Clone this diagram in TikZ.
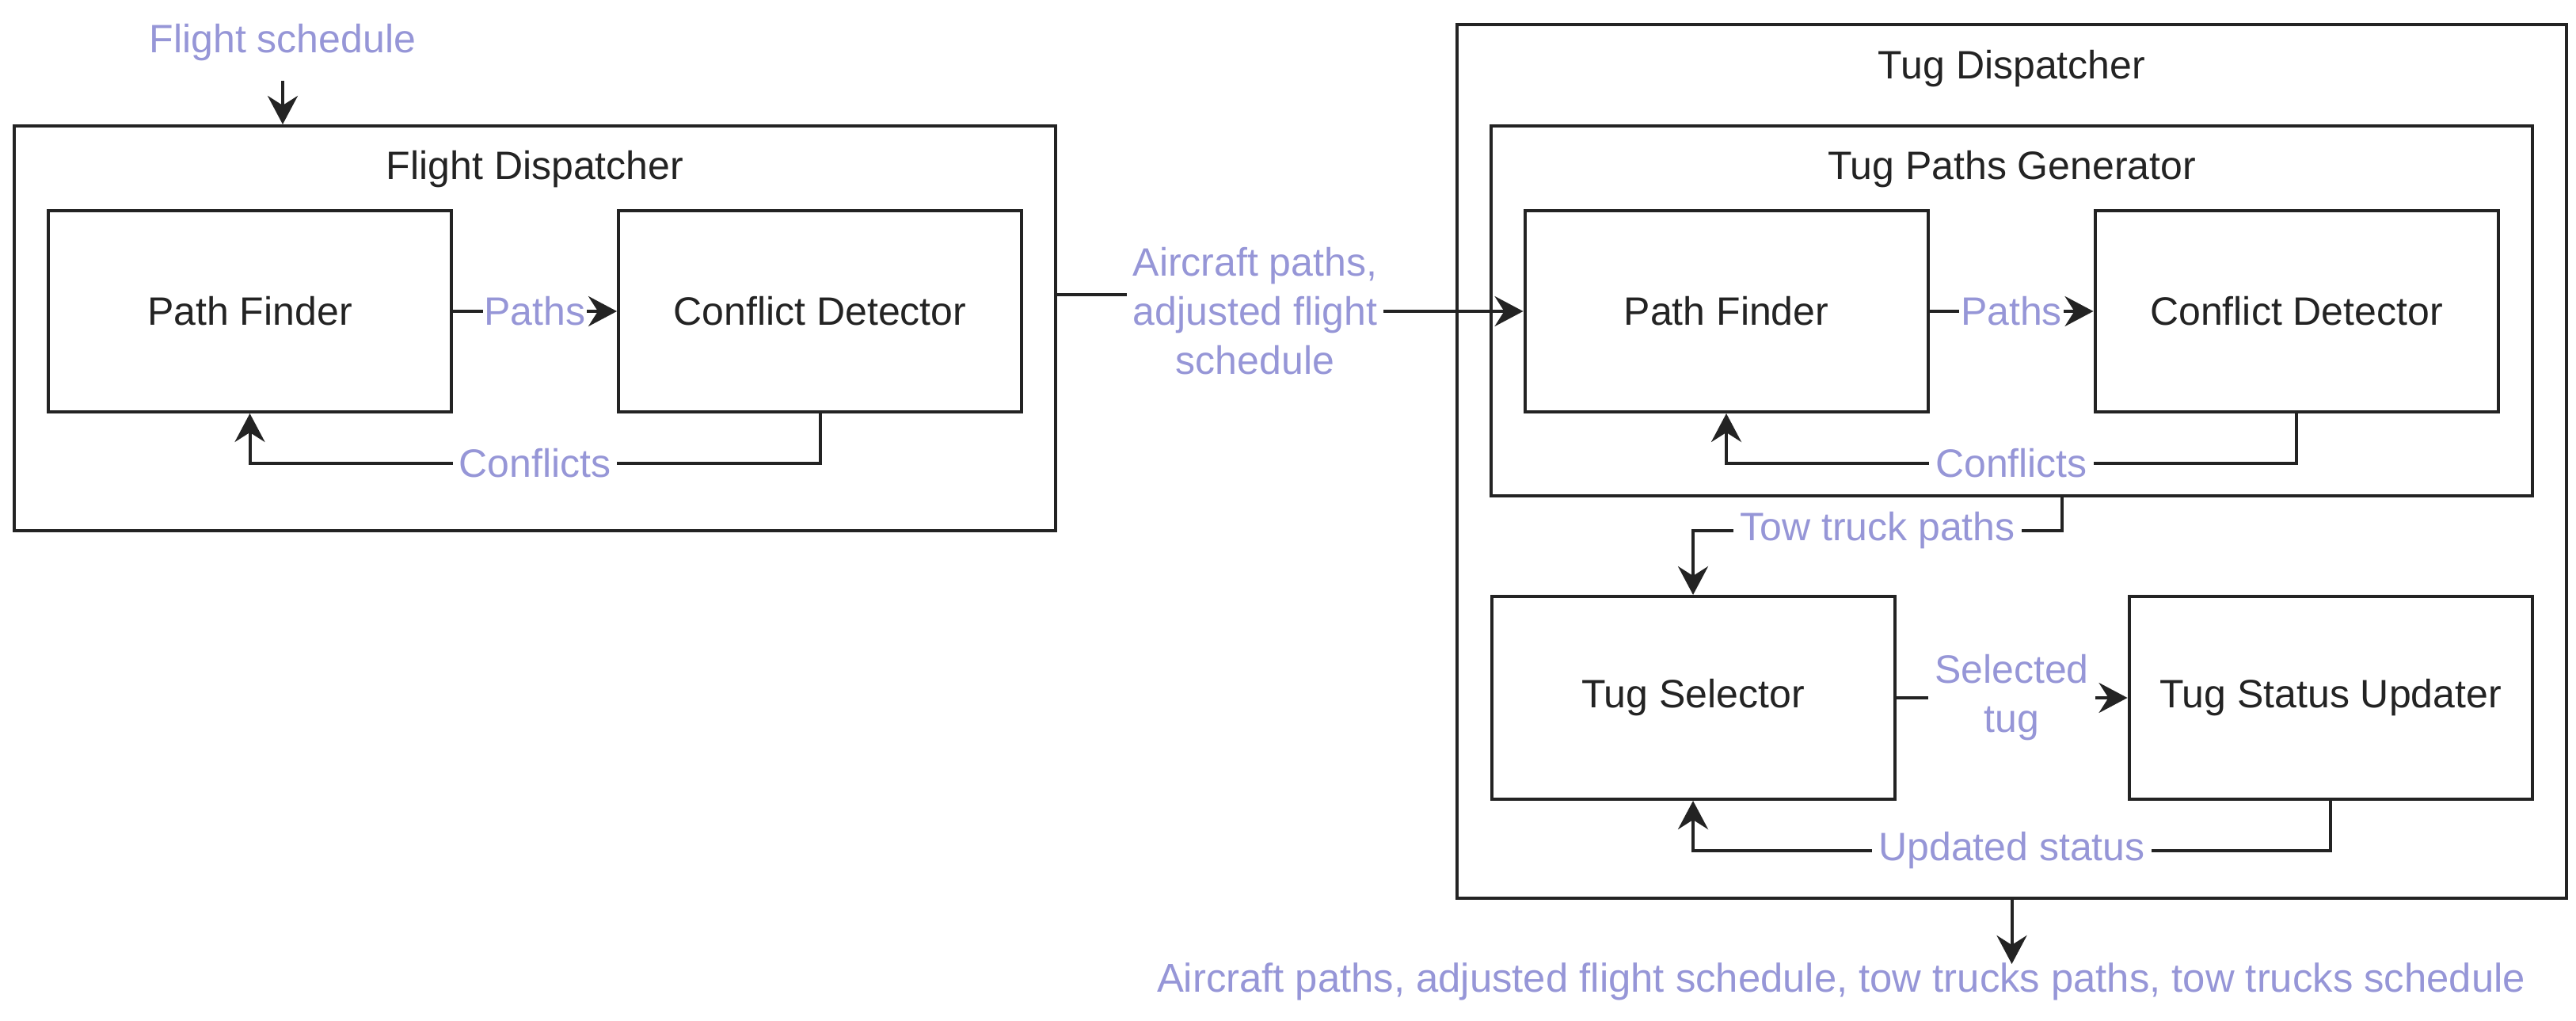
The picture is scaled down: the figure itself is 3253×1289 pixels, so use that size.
\documentclass[tikz,border=0pt]{standalone}
\usepackage{fontspec}
\setmainfont{Liberation Sans}
\usetikzlibrary{arrows.meta}
\definecolor{lbl}{RGB}{150,150,215}
\definecolor{ln}{RGB}{35,35,35}
\tikzset{
  box/.style={draw=ln, line width=2pt, fill=white, inner sep=0pt, text=ln,
    minimum width=254.5pt, minimum height=127pt},
  cont/.style={draw=ln, line width=2pt, inner sep=0pt},
  conn/.style={draw=ln, line width=2pt, -{Stealth[length=18pt,width=19pt,inset=6pt]}},
  plain/.style={draw=ln, line width=2pt},
  lab/.style={text=lbl, fill=white, inner sep=4pt, align=center},
  ttl/.style={text=ln, inner sep=0pt},
}
\begin{document}
\begin{tikzpicture}[x=0.5pt,y=-0.5pt,font=\fontsize{25}{31}\selectfont]
\useasboundingbox (0,0) rectangle (3253,1289);
% left container
\node[cont, minimum width=657.5pt, minimum height=255.5pt] (fd) at (675.5,414.5) {};
\node[ttl] (fdt) at (675.5,214) {Flight Dispatcher};
\node[box] (pf1) at (315.5,393) {Path Finder};
\node[box] (cd1) at (1035.5,393) {Conflict Detector};
\node[lab, fill=none] (fs) at (357,54) {Flight schedule};
% right container
\node[cont, minimum width=700.5pt, minimum height=551.5pt] (td) at (2540.5,582.5) {};
\node[ttl] (tdt) at (2540.5,87) {Tug Dispatcher};
\node[cont, minimum width=657.5pt, minimum height=233.5pt] (tpg) at (2540.5,392.5) {};
\node[ttl] (tpgt) at (2540.5,214) {Tug Paths Generator};
\node[box] (pf2) at (2180,393) {Path Finder};
\node[box] (cd2) at (2900,393) {Conflict Detector};
\node[box, minimum height=128pt] (ts) at (2138,881) {Tug Selector};
\node[box, minimum height=128pt] (tsu) at (2943,881) {Tug Status Updater};
% connectors
\draw[conn] ([yshift=-8pt]fs.south) -- (fs.south |- fd.north);
\draw[conn] (pf1) -- (cd1) node[lab, midway, inner sep=1pt] {Paths};
\draw[conn] (cd1.south) -- ++(0,63) coordinate (c1) -- (c1 -| pf1.south)
  node[lab, midway] {Conflicts} -- (pf1.south);
\coordinate (fdout) at ([yshift=21.25pt]fd.east);
\coordinate (jog) at (1585,372);
\draw[conn] (fdout) -- (jog) -- (jog |- pf2.west) -- (pf2.west);
\node[lab] (acl) at (1585,393) {Aircraft paths,\\adjusted flight\\schedule};
\draw[conn] (pf2) -- (cd2) node[lab, midway, inner sep=1pt] {Paths};
\draw[conn] (cd2.south) -- ++(0,63) coordinate (c2) -- (c2 -| pf2.south)
  node[lab, midway] {Conflicts} -- (pf2.south);
\draw[conn] ([xshift=31.75pt]tpg.south) -- ++(0,42) coordinate (c3) -- (c3 -| ts.north)
  node[lab, midway] {Tow truck paths} -- (ts.north);
\draw[conn] (ts) -- (tsu) node[lab, midway] {Selected\\tug};
\draw[conn] (tsu.south) -- ++(0,63) coordinate (c4) -- (c4 -| ts.south)
  node[lab, midway] {Updated status} -- (ts.south);
\coordinate (outend) at ([yshift=-40.5pt]td.south);
\draw[conn] (td.south) -- (outend);
\node[lab, fill=none, font=\fontsize{25.4}{31}\selectfont] (outl) at (2325,1239) {Aircraft paths, adjusted flight schedule, tow trucks paths, tow trucks schedule};
\end{tikzpicture}
\end{document}
